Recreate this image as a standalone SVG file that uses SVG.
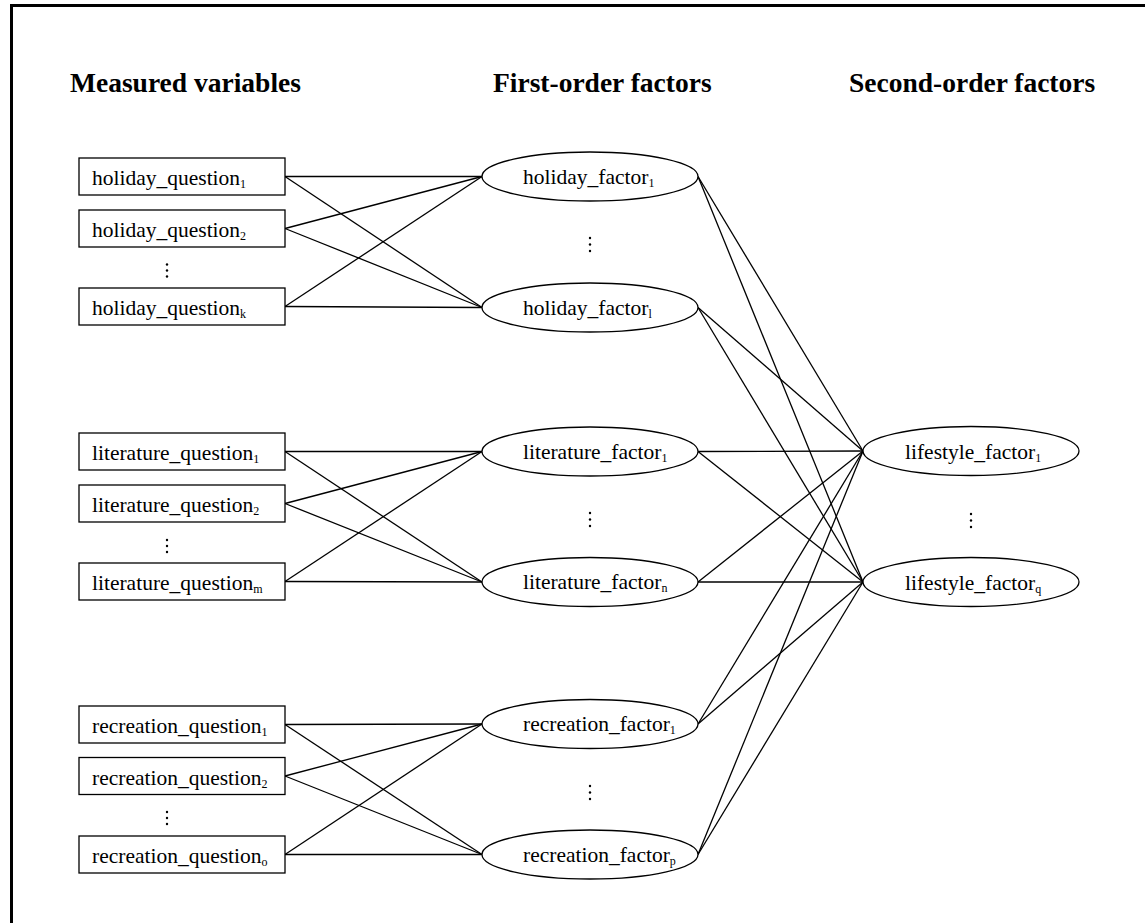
<svg xmlns="http://www.w3.org/2000/svg" width="1145" height="923" viewBox="0 0 1145 923">
<style>
.frame{fill:none;stroke:#000;stroke-width:3}
.box{fill:#fff;stroke:#000;stroke-width:1.3}
.ell{fill:#fff;stroke:#000;stroke-width:1.3}
.edge{stroke:#000;stroke-width:1.3;fill:none}
.hdr{font-family:"Liberation Serif",serif;font-weight:bold;font-size:27.5px;fill:#000}
.lbl{font-family:"Liberation Serif",serif;font-size:21.5px;fill:#000}
.sub{font-size:12px}
.dot{fill:#000}
</style>
<rect width="1145" height="923" fill="#fff"/>
<path class="frame" d="M11.5,923 V5.5 H1145"/>
<g id="headers">
<text class="hdr" x="70" y="92">Measured variables</text>
<text class="hdr" x="493" y="92">First-order factors</text>
<text class="hdr" x="849" y="92">Second-order factors</text>
</g>
<g id="connectors">
<!-- holiday -->
<line class="edge" x1="285" y1="176.5" x2="482" y2="176.5"/>
<line class="edge" x1="285" y1="176.5" x2="482" y2="307.5"/>
<line class="edge" x1="285" y1="228.5" x2="482" y2="176.5"/>
<line class="edge" x1="285" y1="228.5" x2="482" y2="307.5"/>
<line class="edge" x1="285" y1="306.5" x2="482" y2="176.5"/>
<line class="edge" x1="285" y1="306.5" x2="482" y2="307.5"/>
<!-- literature -->
<line class="edge" x1="285" y1="451.5" x2="482" y2="451.5"/>
<line class="edge" x1="285" y1="451.5" x2="482" y2="582"/>
<line class="edge" x1="285" y1="503.5" x2="482" y2="451.5"/>
<line class="edge" x1="285" y1="503.5" x2="482" y2="582"/>
<line class="edge" x1="285" y1="581.5" x2="482" y2="451.5"/>
<line class="edge" x1="285" y1="581.5" x2="482" y2="582"/>
<!-- recreation -->
<line class="edge" x1="285" y1="724.5" x2="482" y2="724"/>
<line class="edge" x1="285" y1="724.5" x2="482" y2="854.5"/>
<line class="edge" x1="285" y1="776" x2="482" y2="724"/>
<line class="edge" x1="285" y1="776" x2="482" y2="854.5"/>
<line class="edge" x1="285" y1="854.5" x2="482" y2="724"/>
<line class="edge" x1="285" y1="854.5" x2="482" y2="854.5"/>
<!-- first-order to second-order -->
<line class="edge" x1="698" y1="176.5" x2="863" y2="451"/>
<line class="edge" x1="698" y1="176.5" x2="863" y2="582"/>
<line class="edge" x1="698" y1="307.5" x2="863" y2="451"/>
<line class="edge" x1="698" y1="307.5" x2="863" y2="582"/>
<line class="edge" x1="698" y1="451.5" x2="863" y2="451"/>
<line class="edge" x1="698" y1="451.5" x2="863" y2="582"/>
<line class="edge" x1="698" y1="582" x2="863" y2="451"/>
<line class="edge" x1="698" y1="582" x2="863" y2="582"/>
<line class="edge" x1="698" y1="724" x2="863" y2="451"/>
<line class="edge" x1="698" y1="724" x2="863" y2="582"/>
<line class="edge" x1="698" y1="854.5" x2="863" y2="451"/>
<line class="edge" x1="698" y1="854.5" x2="863" y2="582"/>
</g>
<g id="holiday_question_1"><rect class="box" x="79" y="158" width="206" height="37"/><text class="lbl" x="92" y="185">holiday_question<tspan class="sub" dy="3">1</tspan></text></g>
<g id="holiday_question_2"><rect class="box" x="79" y="210" width="206" height="37"/><text class="lbl" x="92" y="237">holiday_question<tspan class="sub" dy="3">2</tspan></text></g>
<g id="holiday_question_k"><rect class="box" x="79" y="288" width="206" height="37"/><text class="lbl" x="92" y="315">holiday_question<tspan class="sub" dy="3">k</tspan></text></g>
<g id="literature_question_1"><rect class="box" x="79" y="433" width="206" height="37"/><text class="lbl" x="92" y="460">literature_question<tspan class="sub" dy="3">1</tspan></text></g>
<g id="literature_question_2"><rect class="box" x="79" y="485" width="206" height="37"/><text class="lbl" x="92" y="512">literature_question<tspan class="sub" dy="3">2</tspan></text></g>
<g id="literature_question_m"><rect class="box" x="79" y="563" width="206" height="37"/><text class="lbl" x="92" y="590">literature_question<tspan class="sub" dy="3">m</tspan></text></g>
<g id="recreation_question_1"><rect class="box" x="79" y="706" width="206" height="37"/><text class="lbl" x="92" y="733">recreation_question<tspan class="sub" dy="3">1</tspan></text></g>
<g id="recreation_question_2"><rect class="box" x="79" y="757.5" width="206" height="37"/><text class="lbl" x="92" y="784.5">recreation_question<tspan class="sub" dy="3">2</tspan></text></g>
<g id="recreation_question_o"><rect class="box" x="79" y="836" width="206" height="37"/><text class="lbl" x="92" y="863">recreation_question<tspan class="sub" dy="3">o</tspan></text></g>
<g id="holiday_factor_1"><ellipse class="ell" cx="590" cy="176.5" rx="108" ry="24.5"/><text class="lbl" x="523" y="183.5">holiday_factor<tspan class="sub" dy="3">1</tspan></text></g>
<g id="holiday_factor_l"><ellipse class="ell" cx="590" cy="307.5" rx="108" ry="24.5"/><text class="lbl" x="523" y="314.5">holiday_factor<tspan class="sub" dy="3">l</tspan></text></g>
<g id="literature_factor_1"><ellipse class="ell" cx="590" cy="451.5" rx="108" ry="24.5"/><text class="lbl" x="523" y="458.5">literature_factor<tspan class="sub" dy="3">1</tspan></text></g>
<g id="literature_factor_n"><ellipse class="ell" cx="590" cy="582" rx="108" ry="24.5"/><text class="lbl" x="523" y="589">literature_factor<tspan class="sub" dy="3">n</tspan></text></g>
<g id="recreation_factor_1"><ellipse class="ell" cx="590" cy="724" rx="108" ry="24.5"/><text class="lbl" x="523" y="731">recreation_factor<tspan class="sub" dy="3">1</tspan></text></g>
<g id="recreation_factor_p"><ellipse class="ell" cx="590" cy="854.5" rx="108" ry="24.5"/><text class="lbl" x="523" y="861.5">recreation_factor<tspan class="sub" dy="3">p</tspan></text></g>
<g id="lifestyle_factor_1"><ellipse class="ell" cx="971" cy="451" rx="108" ry="24.5"/><text class="lbl" x="905" y="458.5">lifestyle_factor<tspan class="sub" dy="3">1</tspan></text></g>
<g id="lifestyle_factor_q"><ellipse class="ell" cx="971" cy="582" rx="108" ry="24.5"/><text class="lbl" x="905" y="589.5">lifestyle_factor<tspan class="sub" dy="3">q</tspan></text></g>
<g id="ellipsis_dots">
<circle class="dot" cx="167" cy="264.5" r="1.2"/><circle class="dot" cx="167" cy="270.5" r="1.2"/><circle class="dot" cx="167" cy="276.5" r="1.2"/>
<circle class="dot" cx="167" cy="540" r="1.2"/><circle class="dot" cx="167" cy="546" r="1.2"/><circle class="dot" cx="167" cy="552" r="1.2"/>
<circle class="dot" cx="167" cy="812" r="1.2"/><circle class="dot" cx="167" cy="818" r="1.2"/><circle class="dot" cx="167" cy="824" r="1.2"/>
<circle class="dot" cx="590" cy="238" r="1.2"/><circle class="dot" cx="590" cy="244.5" r="1.2"/><circle class="dot" cx="590" cy="251" r="1.2"/>
<circle class="dot" cx="590" cy="513" r="1.2"/><circle class="dot" cx="590" cy="519.5" r="1.2"/><circle class="dot" cx="590" cy="526" r="1.2"/>
<circle class="dot" cx="590" cy="786" r="1.2"/><circle class="dot" cx="590" cy="792.5" r="1.2"/><circle class="dot" cx="590" cy="799" r="1.2"/>
<circle class="dot" cx="971" cy="514" r="1.2"/><circle class="dot" cx="971" cy="520.5" r="1.2"/><circle class="dot" cx="971" cy="527" r="1.2"/>
</g>
</svg>
